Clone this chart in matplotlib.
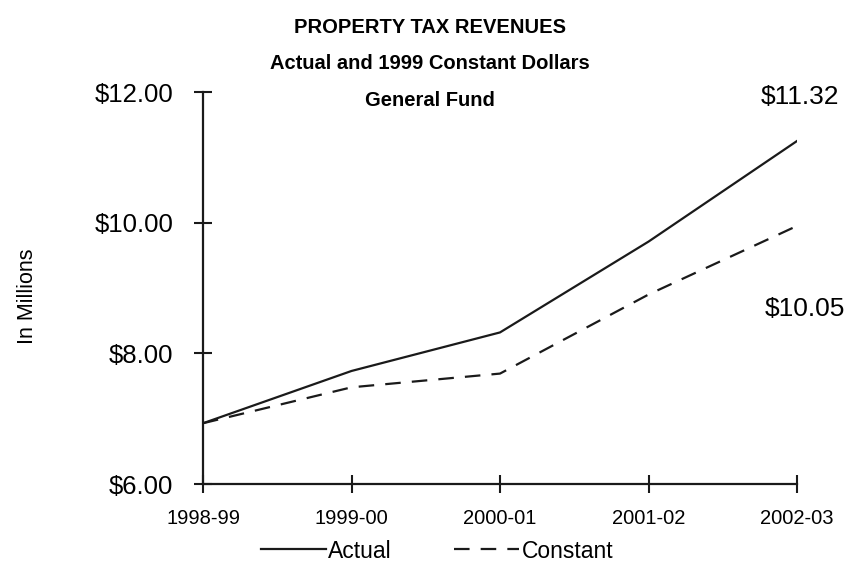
import matplotlib
matplotlib.use("Agg")
import matplotlib.pyplot as plt

categories = ["1998-99", "1999-00", "2000-01", "2001-02", "2002-03"]
actual = [6.93, 7.73, 8.32, 9.71, 11.25]
constant = [6.93, 7.48, 7.69, 8.90, 9.95]
end_labels = ["$11.32", "$10.05"]
yticks = [6, 8, 10, 12]
ytick_labels = ["$6.00", "$8.00", "$10.00", "$12.00"]
title_lines = ["PROPERTY TAX REVENUES", "Actual and 1999 Constant Dollars", "General Fund"]

REG = "Liberation Sans"

fig = plt.figure(figsize=(8.55, 5.76), dpi=100)
ax = fig.add_axes([203/855, 1-484/576, 594/855, 392/576])

x = list(range(len(categories)))
l1, = ax.plot(x, actual, color="#1a1a1a", lw=1.6, solid_joinstyle="miter", label="Actual")
l2, = ax.plot(x, constant, color="#1a1a1a", lw=1.6, linestyle=(0, (7, 5)), label="Constant")

ax.set_xlim(0, len(categories)-1)
ax.set_ylim(6, 12)
ax.set_xticks(x)
ax.set_xticklabels(categories, fontfamily=REG, fontsize=14.5)
ax.set_yticks(yticks)
ax.set_yticklabels(ytick_labels, fontfamily=REG, fontsize=18.5)
ax.tick_params(axis="both", direction="inout", length=13, width=1.5, color="#1a1a1a")
ax.tick_params(axis="x", pad=11.5)
ax.tick_params(axis="y", pad=15)
for s in ["top", "right"]:
    ax.spines[s].set_visible(False)
for s in ["left", "bottom"]:
    ax.spines[s].set_linewidth(1.6)
    ax.spines[s].set_color("#1a1a1a")

ax.set_ylabel("In Millions", fontfamily=REG, fontsize=15.5)
ax.yaxis.set_label_coords(-0.278, 0.48)

ax.annotate(end_labels[0], xy=(x[-1], actual[-1]), xytext=(2, 32), textcoords="offset points",
            ha="center", va="center", fontfamily=REG, fontsize=19, annotation_clip=False)
ax.annotate(end_labels[1], xy=(x[-1], constant[-1]), xytext=(6, -60), textcoords="offset points",
            ha="center", va="center", fontfamily=REG, fontsize=19, annotation_clip=False)

baselines = [33, 69, 106]
for t, b in zip(title_lines, baselines):
    fig.text(430/855, 1-b/576, t, ha="center", va="baseline", fontfamily=REG,
             fontweight="bold", fontsize=14.5)

fig.legend(handles=[l1, l2], loc="center", bbox_to_anchor=(437/855, 1-551/576), ncol=2,
           frameon=False, prop={"family": REG, "size": 16.5}, handlelength=2.85,
           handletextpad=0.1, columnspacing=2.7, borderpad=0, borderaxespad=0)

fig.savefig("out.png", dpi=100)
